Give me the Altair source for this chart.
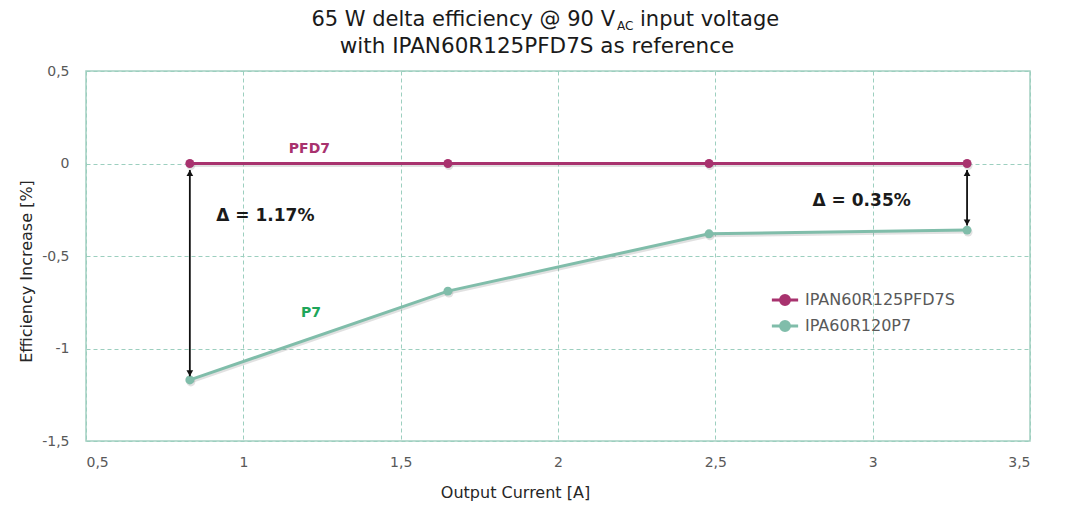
import altair as alt
import pandas as pd

# ---- data ----
current = [0.83, 1.65, 2.48, 3.3]
pfd7 = [0.0, 0.0, 0.0, 0.0]
p7 = [-1.17, -0.69, -0.38, -0.36]
series_names = ["IPAN60R125PFD7S", "IPA60R120P7"]
series_colors = ["#A8326E", "#80BDAA"]

arrow_x = [0.83, 3.3]
arrow_top = [-0.035, -0.035]
arrow_bottom = [-1.15, -0.335]

label_text = ["PFD7", "P7", "Δ = 1.17%", "Δ = 0.35%"]
label_x = [1.21, 1.215, 1.07, 2.965]
label_y = [0.08, -0.81, -0.285, -0.2]
label_color = ["#A8326E", "#1EA65A", "#1A1A1A", "#1A1A1A"]
label_size = [14, 14, 17, 17]

x_ticks = [0.5, 1, 1.5, 2, 2.5, 3, 3.5]
y_ticks = [0.5, 0, -0.5, -1, -1.5]

title_parts = ["65 W delta efficiency @ 90 V", "AC", "input voltage",
               "with IPAN60R125PFD7S as reference"]

FONT = "DejaVu Sans"
GRID = "#9CCFBF"

df = pd.DataFrame({
    "x": current * 2,
    "y": pfd7 + p7,
    "series": [series_names[0]] * 4 + [series_names[1]] * 4,
})
arrows = pd.DataFrame({"x": arrow_x, "top": arrow_top, "bottom": arrow_bottom})
labels = pd.DataFrame({"t": label_text, "x": label_x, "y": label_y, "c": label_color, "s": label_size})

lab_expr = "replace(datum.value + '', '.', ',')"

xs = alt.X("x:Q", scale=alt.Scale(domain=[0.5, 3.5], nice=False),
           axis=alt.Axis(values=x_ticks, title="Output Current [A]", labelExpr=lab_expr,
                         grid=True, gridDash=[4, 3], gridColor=GRID, domain=False, ticks=False,
                         labelPadding=14, labelFontSize=14, labelColor="#595959", labelFont=FONT,
                         titleFont=FONT, titleFontSize=16, titleFontWeight="normal", titleColor="#262626",
                         titleX=429, titleY=56, titleBaseline="alphabetic"))
ys = alt.Y("y:Q", scale=alt.Scale(domain=[-1.5, 0.5], nice=False),
           axis=alt.Axis(values=y_ticks, title="Efficiency Increase  [%]", labelExpr=lab_expr,
                         grid=True, gridDash=[4, 3], gridColor=GRID, domain=False, ticks=False,
                         labelPadding=17, labelFontSize=14, labelColor="#595959", labelFont=FONT,
                         titleFont=FONT, titleFontSize=16, titleFontWeight="normal", titleColor="#262626",
                         titlePadding=7, titleY=200))

color = alt.Color("series:N", scale=alt.Scale(domain=series_names, range=series_colors),
                  legend=alt.Legend(title=None, orient="none", legendX=684, legendY=214,
                                    symbolType="M-1,0L1,0M0.34,0A0.34,0.34 0 1,1 -0.34,0A0.34,0.34 0 1,1 0.34,0",
                                    symbolSize=690, symbolStrokeWidth=3, labelFont=FONT,
                                    labelFontSize=16, labelColor="#595959", rowPadding=0,
                                    labelOffset=5))

base = alt.Chart(df)
shadow = base.mark_line(strokeWidth=3, color="#777777", opacity=0.22, xOffset=1, yOffset=2).encode(
    x="x:Q", y="y:Q", detail="series:N")
shadow_pts = base.mark_point(filled=True, size=80, color="#777777", opacity=0.22, xOffset=1, yOffset=2).encode(
    x="x:Q", y="y:Q")
lines = base.mark_line(strokeWidth=3).encode(x=xs, y=ys, color=color)
points = base.mark_point(filled=True, size=80, opacity=1).encode(
    x="x:Q", y="y:Q", color=alt.Color("series:N", legend=None))

arr = alt.Chart(arrows)
rule = arr.mark_rule(color="#111111", strokeWidth=1.8).encode(x="x:Q", y="top:Q", y2="bottom:Q")
head_top = arr.mark_point(shape="triangle-up", filled=True, color="#111111", size=45, opacity=1,
                          yOffset=3).encode(x="x:Q", y="top:Q")
head_bot = arr.mark_point(shape="triangle-down", filled=True, color="#111111", size=45, opacity=1,
                          yOffset=-3).encode(x="x:Q", y="bottom:Q")

txt = alt.Chart(labels).mark_text(font=FONT, fontWeight="bold").encode(
    x="x:Q", y="y:Q", text="t:N", color=alt.Color("c:N", scale=None),
    size=alt.Size("s:Q", scale=None))

title_df = pd.DataFrame({"t": title_parts, "k": [0, 1, 2, 3]})
tb = alt.Chart(title_df)
TC = "#1A1A1A"
t1 = tb.transform_filter("datum.k == 0").mark_text(font=FONT, fontSize=21, align="right", baseline="alphabetic", color=TC).encode(
    x=alt.value(529), y=alt.value(-45), text="t:N")
t2 = tb.transform_filter("datum.k == 1").mark_text(font=FONT, fontSize=12, align="left", baseline="alphabetic", color=TC).encode(
    x=alt.value(531), y=alt.value(-41), text="t:N")
t3 = tb.transform_filter("datum.k == 2").mark_text(font=FONT, fontSize=21, align="left", baseline="alphabetic", color=TC).encode(
    x=alt.value(554), y=alt.value(-45), text="t:N")
t4 = tb.transform_filter("datum.k == 3").mark_text(font=FONT, fontSize=21.5, align="center", baseline="alphabetic", color=TC).encode(
    x=alt.value(451), y=alt.value(-18), text="t:N")

chart = alt.layer(shadow, shadow_pts, lines, points, rule, head_top, head_bot, txt, t1, t2, t3, t4).properties(
    width=944, height=370,
    autosize=alt.AutoSizeParams(type="none"),
    padding={"left": 78, "top": 63, "right": 42, "bottom": 65},
).configure_view(stroke="#A3CFC1", strokeWidth=1.5).configure_text(limit=0)

chart.save("out.html", embed_options={"renderer": "svg", "actions": False})
